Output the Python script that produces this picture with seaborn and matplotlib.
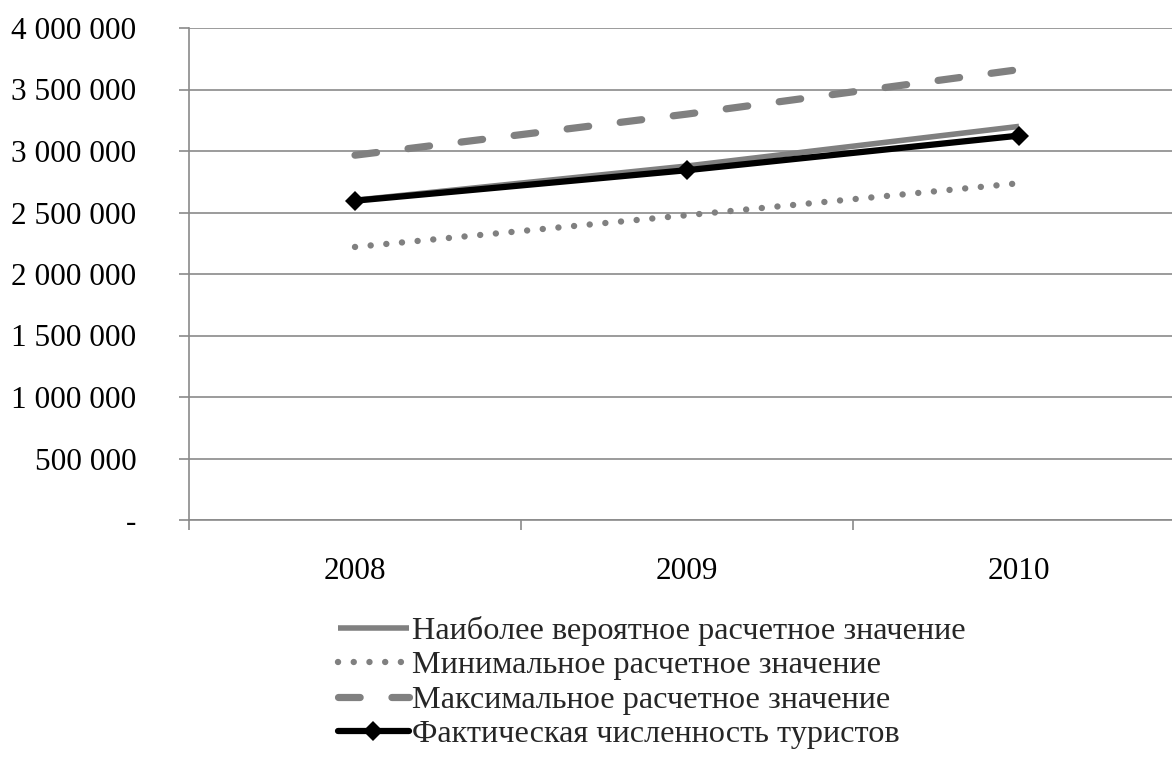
import matplotlib
matplotlib.use("Agg")
import matplotlib.pyplot as plt
from matplotlib.ticker import FixedLocator, FuncFormatter
import seaborn as sns
import pandas as pd

# Forecast vs. actual tourist numbers
years = ["2008", "2009", "2010"]
most_likely = [2600000, 2878000, 3200000]
minimum = [2220000, 2478000, 2738000]
maximum = [2966000, 3300000, 3662000]
actual = [2596000, 2844000, 3125000]

labels = [
    "Наиболее вероятное расчетное значение",
    "Минимальное расчетное значение",
    "Максимальное расчетное значение",
    "Фактическая численность туристов",
]

sns.set_theme(style="white")
plt.rcParams["font.family"] = ["Liberation Serif", "DejaVu Serif"]

FS = 22.5

fig = plt.figure(figsize=(11.72, 7.58), dpi=100)
ax = fig.add_axes([189 / 1172, 1 - 520 / 758, (1185 - 189) / 1172, (520 - 28) / 758])

grey = "#808080"
df = pd.DataFrame({"year": years, "likely": most_likely, "min": minimum,
                   "max": maximum, "actual": actual})

sns.lineplot(data=df, x="year", y="likely", ax=ax, color=grey, lw=4.0,
             solid_capstyle="butt", label=labels[0], sort=False)
sns.lineplot(data=df, x="year", y="min", ax=ax, color=grey, lw=4.6,
             label=labels[1], sort=False)
sns.lineplot(data=df, x="year", y="max", ax=ax, color=grey, lw=5.2,
             label=labels[2], sort=False)
sns.lineplot(data=df, x="year", y="actual", ax=ax, color="black", lw=4.5,
             marker="D", markersize=10, markeredgewidth=0, label=labels[3],
             sort=False)

lines = ax.get_lines()
lines[1].set_linestyle((0, (0.01, 2.45)))
lines[1].set_dash_capstyle("round")
lines[2].set_linestyle((0, (3.0, 4.4)))
lines[2].set_dash_capstyle("round")

ax.set_xlim(-0.5, 2.5)
ax.set_ylim(0, 4000000)
ax.set_xlabel("")
ax.set_ylabel("")

# y axis
yticks = list(range(0, 4000001, 500000))
ax.yaxis.set_major_locator(FixedLocator(yticks))
ax.yaxis.set_major_formatter(FuncFormatter(
    lambda v, p: "-" if v == 0 else f"{int(v):,}".replace(",", " ")))
ax.grid(axis="y", color="#8a8a8a", lw=1.2)
ax.set_axisbelow(True)

# x axis: boundary ticks, labels centered on categories
ax.xaxis.set_major_locator(FixedLocator([-0.5, 0.5, 1.5, 2.5]))
ax.xaxis.set_major_formatter(FuncFormatter(lambda v, p: ""))
ax.xaxis.set_minor_locator(FixedLocator([0, 1, 2]))
ax.set_xticklabels(years, minor=True)
ax.tick_params(axis="x", which="major", direction="out", length=7,
               width=1.2, color="#8a8a8a", bottom=True)
ax.tick_params(axis="x", which="minor", length=0, pad=26.5, labelsize=FS,
               labelcolor="black")
ax.tick_params(axis="y", direction="out", length=7, width=1.2,
               color="#8a8a8a", left=True, pad=31, labelsize=FS,
               labelcolor="black")

for s in ["top", "right"]:
    ax.spines[s].set_visible(False)
for s in ["left", "bottom"]:
    ax.spines[s].set_color("#8a8a8a")
    ax.spines[s].set_linewidth(1.2)

handles, _ = ax.get_legend_handles_labels()
ax.legend_.remove()
fig.legend(handles, labels, loc="upper left",
           bbox_to_anchor=(338 / 1172, 1 - 616 / 758), frameon=False,
           fontsize=23.2, handlelength=2.2, handletextpad=0.1,
           labelspacing=0.15, borderpad=0, borderaxespad=0)

fig.savefig("out.png", dpi=100)
